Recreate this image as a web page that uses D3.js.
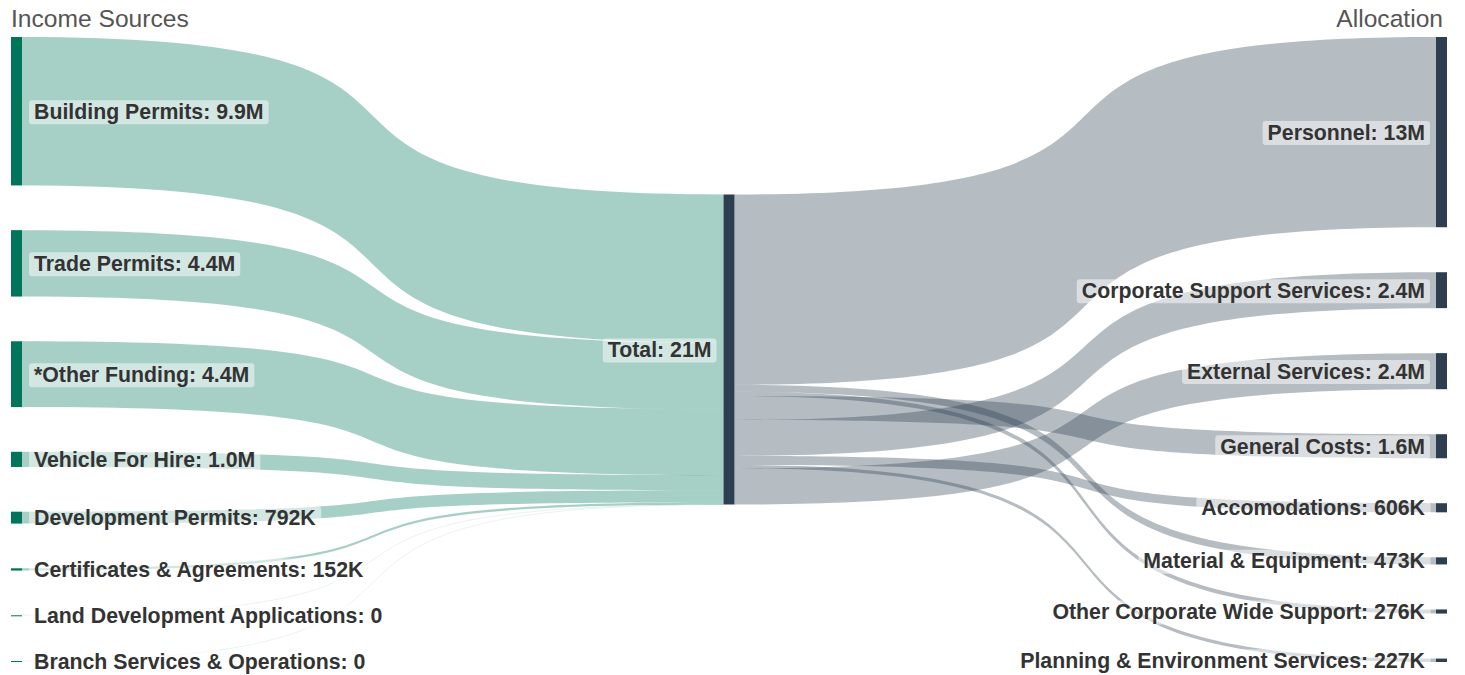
<!DOCTYPE html>
<html>
<head>
<meta charset="utf-8">
<title>Income Sources and Allocation</title>
<script src="https://d3js.org/d3.v7.min.js"></script>
<style>
  body { margin: 0; background: #fff; }
  svg { display: block; font-family: "Liberation Sans", Arial, sans-serif; }
</style>
</head>
<body>
<svg id="chart"></svg>
<script>
// income sources (left column)
var sources = ["Building Permits", "Trade Permits", "*Other Funding", "Vehicle For Hire",
               "Development Permits", "Certificates & Agreements",
               "Land Development Applications", "Branch Services & Operations"];
var sourceValues = [9880000, 4420000, 4380000, 1010000, 792000, 152000, 0, 0];

// allocation (right column)
var allocations = ["Personnel", "Corporate Support Services", "External Services", "General Costs",
                   "Accomodations", "Material & Equipment", "Other Corporate Wide Support",
                   "Planning & Environment Services"];
var allocationValues = [12662000, 2390000, 2400000, 1600000, 606000, 473000, 276000, 227000];

// order the outflows leave the Total node (top to bottom)
var outflowOrder = ["Personnel", "Material & Equipment", "Other Corporate Wide Support", "General Costs",
                    "Corporate Support Services", "Accomodations", "Planning & Environment Services",
                    "External Services"];

var totalName = "Total";
var columnTitles = ["Income Sources", "Allocation"];

var width = 1465, height = 675;
var nodeWidth = 11, nodePadding = 45;
var yTop = 37, yBottom = 662;
var curve = 0.77;

var green = "#00755a", navy = "#2c3e50";

var svg = d3.select("#chart").attr("width", width).attr("height", height);

var total = d3.sum(sourceValues);
var colX = d3.scaleLinear().domain([0, 2]).range([11, 1436]);
var ky = d3.scaleLinear().domain([0, total])
           .range([0, (yBottom - yTop) - (sources.length - 1) * nodePadding]);

function fmt(v) {
  if (v === 0) return "0";
  return d3.format(v >= 1e6 ? ".2s" : ".3s")(v).replace("k", "K");
}

function layoutColumn(names, values, col) {
  var hs = values.map(function(v) { return Math.max(1, ky(v)); });
  var pad = (yBottom - yTop - d3.sum(hs)) / (names.length - 1);
  var y = yTop;
  return names.map(function(n, i) {
    var node = {name: n, value: values[i], col: col,
                x0: colX(col), x1: colX(col) + nodeWidth, y0: y, y1: y + hs[i]};
    y += hs[i] + pad;
    return node;
  });
}

var leftNodes = layoutColumn(sources, sourceValues, 0);
var rightNodes = layoutColumn(allocations, allocationValues, 2);
var mid = (yTop + yBottom) / 2;
var centerNode = {name: totalName, value: total, col: 1,
                  x0: colX(1), x1: colX(1) + nodeWidth,
                  y0: mid - ky(total) / 2, y1: mid + ky(total) / 2};

// links: income -> total
var links = [];
var off = centerNode.y0;
leftNodes.forEach(function(n) {
  var h = ky(n.value);
  links.push({side: 0, value: n.value, x0: n.x1, x1: centerNode.x0,
              sy0: n.y0, sy1: n.y0 + h, ty0: off, ty1: off + h});
  off += h;
});
// links: total -> allocation
off = centerNode.y0;
outflowOrder.forEach(function(name) {
  var n = rightNodes.find(function(d) { return d.name === name; });
  var h = ky(n.value);
  links.push({side: 1, value: n.value, x0: centerNode.x1, x1: n.x0,
              sy0: off, sy1: off + h, ty0: n.y0, ty1: n.y0 + h});
  off += h;
});

function linkPath(l) {
  var dx = l.x1 - l.x0, xa = l.x0 + dx * curve, xb = l.x1 - dx * curve;
  var p = d3.path();
  p.moveTo(l.x0, l.sy0);
  p.bezierCurveTo(xa, l.sy0, xb, l.ty0, l.x1, l.ty0);
  p.lineTo(l.x1, l.ty1);
  p.bezierCurveTo(xb, l.ty1, xa, l.sy1, l.x0, l.sy1);
  p.closePath();
  return p.toString();
}

svg.append("g").selectAll("path")
  .data(links)
  .enter().append("path")
  .attr("d", linkPath)
  .attr("fill", function(d) { return d.side === 0 ? green : navy; })
  .attr("fill-opacity", 0.35)
  .attr("stroke", function(d) { return d.side === 0 ? green : navy; })
  .attr("stroke-opacity", function(d) { return d.value === 0 ? 0.06 : 0; })
  .attr("stroke-width", 0.8);

var allNodes = leftNodes.concat([centerNode], rightNodes);

svg.append("g").selectAll("rect")
  .data(allNodes)
  .enter().append("rect")
  .attr("x", function(d) { return d.x0; })
  .attr("y", function(d) { return d.y0; })
  .attr("width", nodeWidth)
  .attr("height", function(d) { return d.y1 - d.y0; })
  .attr("fill", function(d) { return d.col === 0 ? green : navy; });

// labels with a soft rounded background
var labels = svg.append("g").selectAll("g")
  .data(allNodes)
  .enter().append("g");

labels.append("text")
  .attr("x", function(d) { return d.col === 0 ? d.x1 + 12 : d.x0 - (d.col === 1 ? 12 : 11); })
  .attr("y", function(d) { return (d.y0 + d.y1) / 2; })
  .attr("dy", "0.35em")
  .attr("text-anchor", function(d) { return d.col === 0 ? "start" : "end"; })
  .attr("font-size", "21.3px")
  .attr("font-weight", "bold")
  .attr("fill", "#333")
  .text(function(d) { return d.name + ": " + fmt(d.value); });

labels.each(function() {
  var g = d3.select(this);
  var b = g.select("text").node().getBBox();
  g.insert("rect", "text")
    .attr("x", b.x - 5)
    .attr("y", b.y + 0.5)
    .attr("width", b.width + 10)
    .attr("height", b.height)
    .attr("rx", 3)
    .attr("fill", "#fff")
    .attr("fill-opacity", 0.5);
});

// column titles
svg.append("text")
  .attr("x", 11).attr("y", 27)
  .attr("font-size", "24.6px").attr("fill", "#555")
  .text(columnTitles[0]);
svg.append("text")
  .attr("x", 1443).attr("y", 27)
  .attr("text-anchor", "end")
  .attr("font-size", "24.6px").attr("fill", "#555")
  .text(columnTitles[1]);
</script>
</body>
</html>
